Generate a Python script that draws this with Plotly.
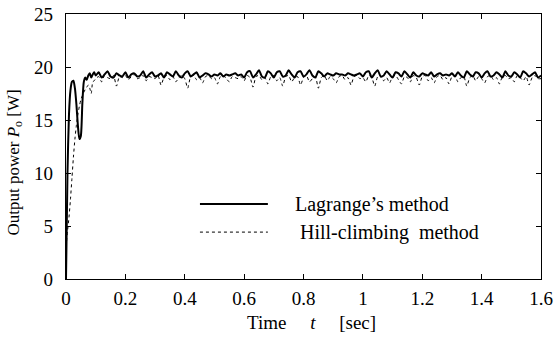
import numpy as np
import plotly.graph_objects as go

# time axis (s)
t_early = [0, 0.005, 0.01, 0.015, 0.02, 0.025, 0.03, 0.035, 0.04, 0.045,
           0.05, 0.055, 0.06, 0.065, 0.07, 0.075, 0.08, 0.085, 0.09, 0.095]
t_late = [round(0.10 + 0.01 * i, 2) for i in range(151)]
time = t_early + t_late

lagrange_early = [0, 10, 15.5, 17.8, 18.6, 18.7, 18.0, 16.5, 14.5, 13.2,
                  13.5, 16.5, 18.6, 19.0, 18.8, 19.2, 19.4, 19.0, 19.3, 19.5]
lagrange_late = [
    19.2, 19.5, 19.0, 19.3, 19.6, 19.1, 19.0, 19.4, 19.2, 19.1,
    19.5, 19.0, 19.3, 19.4, 19.1, 19.2, 19.6, 19.0, 19.3, 19.5,
    19.1, 19.2, 19.4, 19.0, 19.5, 19.3, 19.1, 19.6, 19.2, 19.0,
    19.4, 19.6, 19.1, 19.3, 19.5, 19.0, 19.2, 19.4, 19.3, 19.1,
    19.3, 19.2, 19.4, 19.1, 19.3, 19.2, 19.3, 19.4, 19.2, 19.3,
    19.0, 19.5, 19.6, 19.0, 19.3, 19.7, 19.1, 19.0, 19.6, 19.4,
    19.0, 19.5, 19.6, 19.1, 19.2, 19.7, 19.3, 19.0, 19.5, 19.6,
    19.1, 19.3, 19.7, 19.2, 19.0, 19.6, 19.4, 19.1, 19.4, 19.3,
    19.2, 19.4, 19.3, 19.3, 19.2, 19.4, 19.3, 19.2, 19.3, 19.4,
    19.1, 19.5, 19.6, 19.0, 19.4, 19.7, 19.1, 19.2, 19.6, 19.3,
    19.0, 19.5, 19.4, 19.1, 19.6, 19.3, 19.0, 19.5, 19.2, 19.1,
    19.4, 19.3, 19.2, 19.5, 19.1, 19.3, 19.4, 19.2, 19.3, 19.2,
    19.4, 19.1, 19.5, 19.2, 19.0, 19.6, 19.3, 19.1, 19.5, 19.4,
    19.0, 19.4, 19.6, 19.1, 19.2, 19.5, 19.3, 19.0, 19.6, 19.2,
    19.1, 19.5, 19.3, 19.0, 19.6, 19.4, 19.1, 19.3, 19.5, 19.0,
    19.2]
lagrange = lagrange_early + lagrange_late

hill_early = [3.0, 4.5, 5.8, 7.5, 9.5, 11.5, 13.2, 14.5, 15.5, 16.3,
              16.9, 17.3, 17.6, 17.9, 18.1, 18.3, 18.0, 17.5, 18.6, 18.7]
hill_late = [
    18.9, 19.1, 18.6, 19.2, 19.0, 18.9, 19.2, 18.2, 19.1, 19.0,
    19.2, 18.8, 19.1, 19.3, 18.9, 19.0, 19.2, 18.7, 19.1, 19.0,
    18.9, 19.2, 18.3, 19.0, 19.2, 18.8, 19.1, 18.6, 19.0, 19.2,
    18.9, 18.0, 19.1, 19.2, 18.8, 19.0, 18.5, 19.1, 19.2, 18.9,
    19.0, 18.4, 19.1, 19.2, 18.9, 18.6, 19.1, 19.0, 18.9, 19.1,
    18.7, 19.2, 19.0, 18.1, 19.1, 19.2, 18.8, 19.0, 18.4, 19.1,
    19.2, 18.7, 19.0, 18.2, 19.1, 19.2, 18.6, 19.0, 19.1, 18.3,
    19.0, 19.2, 18.6, 18.9, 19.1, 18.0, 19.0, 19.2, 18.7, 19.1,
    18.9, 18.5, 19.1, 19.2, 18.8, 19.0, 18.3, 19.1, 19.2, 18.9,
    19.0, 18.6, 19.2, 19.0, 18.2, 19.1, 19.2, 18.7, 19.0, 18.5,
    19.1, 19.2, 18.8, 18.4, 19.1, 19.0, 18.6, 19.2, 19.0, 18.3,
    19.1, 19.2, 18.7, 19.0, 18.5, 19.1, 19.2, 18.8, 19.0, 18.4,
    19.1, 19.2, 18.6, 19.0, 19.1, 18.2, 19.0, 19.2, 18.7, 19.1,
    18.9, 18.5, 19.1, 19.2, 18.8, 19.0, 18.4, 19.1, 19.2, 18.9,
    19.0, 18.6, 19.2, 19.0, 18.7, 19.1, 18.3, 19.0, 19.2, 18.9,
    18.9]
hill = hill_early + hill_late

x_ticks = [0, 0.2, 0.4, 0.6, 0.8, 1, 1.2, 1.4, 1.6]
y_ticks = [0, 5, 10, 15, 20, 25]
legend_names = ["Lagrange\u2019s method", "Hill-climbing\u00a0 method"]
x_title = "Time\u2003 <i>t</i>\u2003 [sec]"
y_title = "Output power <i>P</i><sub>o</sub> [W]"

FONT = "Liberation Serif"

fig = go.Figure()
fig.add_trace(go.Scatter(x=time, y=hill, mode="lines", name=legend_names[1],
                         line=dict(color="black", width=1, dash="dot", shape="spline", smoothing=0.6),
                         showlegend=False))
fig.add_trace(go.Scatter(x=time, y=lagrange, mode="lines", name=legend_names[0],
                         line=dict(color="black", width=2, shape="spline", smoothing=0.6),
                         showlegend=False))

# manual legend (layout decoration)
leg_y = [0.283, 0.177]
for yy, dash, w, name, xt in [(leg_y[0], "solid", 2, legend_names[0], 0.478),
                              (leg_y[1], "dot", 1, legend_names[1], 0.488)]:
    fig.add_shape(type="line", xref="paper", yref="paper", x0=0.282, x1=0.425,
                  y0=yy, y1=yy, line=dict(color="black", width=w, dash=dash))
    fig.add_annotation(xref="paper", yref="paper", x=xt, y=yy, text=name,
                       showarrow=False, xanchor="left", yanchor="middle",
                       font=dict(family=FONT, size=20, color="black"))

# axis titles as annotations for exact placement
fig.add_annotation(xref="paper", yref="paper", x=0.517, y=-0.163, text=x_title,
                   showarrow=False, xanchor="center", yanchor="middle",
                   font=dict(family=FONT, size=19, color="black"))
fig.add_annotation(xref="paper", yref="paper", x=-0.107, y=0.44, text=y_title,
                   showarrow=False, xanchor="center", yanchor="middle", textangle=-90,
                   font=dict(family=FONT, size=17, color="black"))

axis_common = dict(showgrid=False, zeroline=False, showline=True, linecolor="black",
                   linewidth=1.3, mirror="ticks", ticks="inside", ticklen=5,
                   tickcolor="black", automargin=False,
                   tickfont=dict(family=FONT, size=19, color="black"))

fig.update_xaxes(range=[0, 1.6], tickvals=x_ticks, ticktext=[f"{v:g}" for v in x_ticks],
                 ticklabelstandoff=2, **axis_common)
fig.update_yaxes(range=[0, 25], tickvals=y_ticks, ticklabelstandoff=8, **axis_common)

fig.update_layout(width=558, height=338, margin=dict(l=66, r=17, t=14, b=59, autoexpand=False),
                  paper_bgcolor="white", plot_bgcolor="white",
                  font=dict(family=FONT, size=17, color="black"))

fig.write_html("out.html", config={"displayModeBar": False},
               post_script="document.body.style.margin='0';")
